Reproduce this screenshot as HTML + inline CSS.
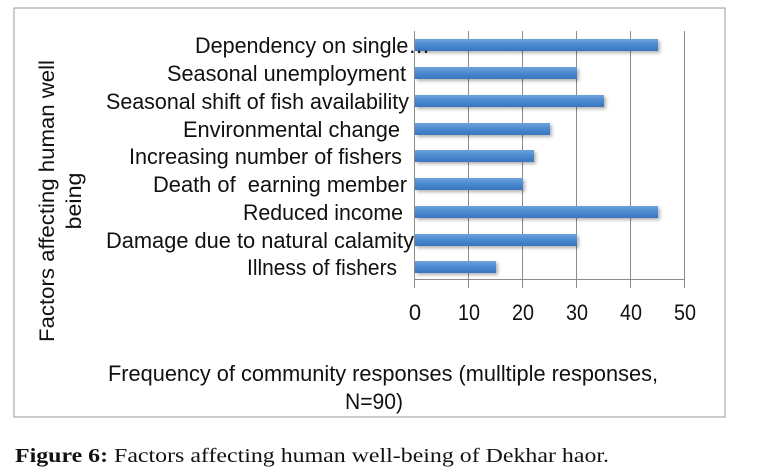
<!DOCTYPE html>
<html><head><meta charset="utf-8"><style>
html,body{margin:0;padding:0;background:#fff;}
svg{display:block;}
</style></head><body>
<svg width="763" height="470" xmlns="http://www.w3.org/2000/svg">
<defs>
<linearGradient id="g" x1="0" y1="0" x2="0" y2="1">
<stop offset="0" stop-color="#6fa2dc"/><stop offset="0.5" stop-color="#4a89d0"/><stop offset="1" stop-color="#3a75bd"/>
</linearGradient>
<filter id="sh" x="-5%" y="-30%" width="115%" height="180%"><feDropShadow dx="2" dy="2" stdDeviation="1.5" flood-color="#000" flood-opacity="0.3"/></filter>
</defs>
<rect x="14" y="8" width="711" height="409" fill="#fff" stroke="#9a9a9a" stroke-width="1"/>
<g stroke="#8c8c8c" stroke-width="1">
<line x1="468.5" y1="31" x2="468.5" y2="288"/>
<line x1="522.5" y1="31" x2="522.5" y2="288"/>
<line x1="576.5" y1="31" x2="576.5" y2="288"/>
<line x1="630.5" y1="31" x2="630.5" y2="288"/>
<line x1="684.5" y1="31" x2="684.5" y2="288"/>
<line x1="414.5" y1="31" x2="414.5" y2="288"/>
<line x1="414" y1="279.5" x2="685" y2="279.5"/>
</g>
<g fill="url(#g)" filter="url(#sh)">
<rect x="415" y="39" width="243" height="12"/>
<rect x="415" y="67" width="162" height="12"/>
<rect x="415" y="95" width="189" height="12"/>
<rect x="415" y="123" width="135" height="12"/>
<rect x="415" y="150" width="119" height="12"/>
<rect x="415" y="178" width="108" height="12"/>
<rect x="415" y="206" width="243" height="12"/>
<rect x="415" y="234" width="162" height="12"/>
<rect x="415" y="261" width="81" height="12"/>
</g>
<g font-family="Liberation Sans Narrow, Liberation Sans, sans-serif" font-size="22" fill="#111">
<text x="195" y="53" textLength="235" lengthAdjust="spacingAndGlyphs">Dependency on single…</text>
<text x="167" y="81" textLength="239" lengthAdjust="spacingAndGlyphs">Seasonal unemployment</text>
<text x="106" y="109" textLength="303" lengthAdjust="spacingAndGlyphs">Seasonal shift of fish availability</text>
<text x="183" y="137" textLength="217" lengthAdjust="spacingAndGlyphs">Environmental change</text>
<text x="129" y="164" textLength="273" lengthAdjust="spacingAndGlyphs">Increasing number of fishers</text>
<text x="153" y="192" textLength="254" lengthAdjust="spacingAndGlyphs">Death of&#160; earning member</text>
<text x="243" y="220" textLength="160" lengthAdjust="spacingAndGlyphs">Reduced income</text>
<text x="106" y="248" textLength="308" lengthAdjust="spacingAndGlyphs">Damage due to natural calamity</text>
<text x="247" y="275" textLength="150" lengthAdjust="spacingAndGlyphs">Illness of fishers</text>
<g text-anchor="middle">
<text x="415" y="320">0</text><text x="469" y="320" textLength="22" lengthAdjust="spacingAndGlyphs">10</text><text x="523" y="320" textLength="22" lengthAdjust="spacingAndGlyphs">20</text>
<text x="577" y="320" textLength="22" lengthAdjust="spacingAndGlyphs">30</text><text x="631" y="320" textLength="22" lengthAdjust="spacingAndGlyphs">40</text><text x="685" y="320" textLength="22" lengthAdjust="spacingAndGlyphs">50</text>
<text x="383" y="381" textLength="550" lengthAdjust="spacingAndGlyphs">Frequency of community responses (mulltiple responses,</text>
<text x="374" y="409" textLength="58" lengthAdjust="spacingAndGlyphs">N=90)</text>
</g>
</g>
<g font-family="Liberation Sans, sans-serif" font-size="21" fill="#111" text-anchor="middle">
<text transform="translate(54,201) rotate(-90)" textLength="282" lengthAdjust="spacingAndGlyphs">Factors affecting human well</text>
<text transform="translate(81,201) rotate(-90)" textLength="57" lengthAdjust="spacingAndGlyphs">being</text>
</g>
<text x="15" y="462" font-family="Liberation Serif, serif" font-size="20" fill="#111" textLength="594" lengthAdjust="spacingAndGlyphs"><tspan font-weight="bold">Figure 6:</tspan> Factors affecting human well-being of Dekhar haor.</text>
</svg>
</body></html>
